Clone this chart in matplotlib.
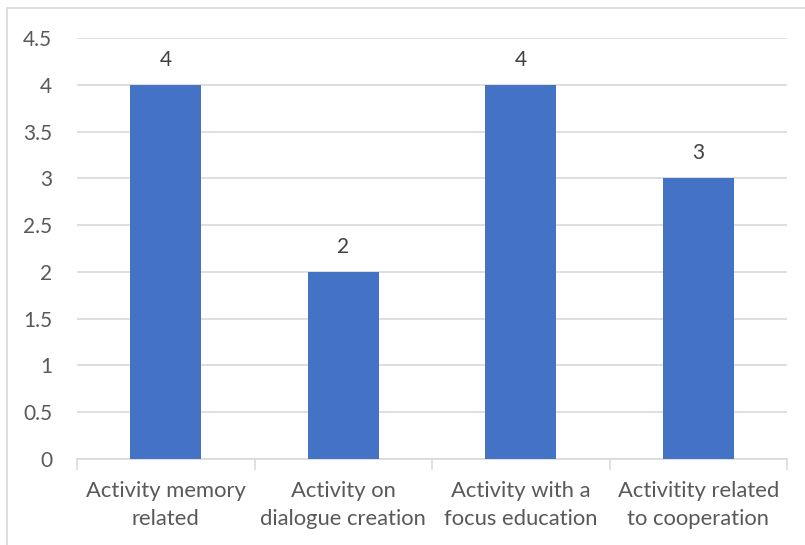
import matplotlib.pyplot as plt
from matplotlib.patches import Rectangle

categories = ["Activity memory\nrelated", "Activity on\ndialogue creation",
              "Activity with a\nfocus education", "Activitity related\nto cooperation"]
values = [4, 2, 4, 3]

plt.rcParams['font.family'] = ['Lato', 'DejaVu Sans']
txt = '#595959'
grid = '#D9D9D9'

fig = plt.figure(figsize=(8.05, 5.45), dpi=100)
# chart frame
fig.patches.append(Rectangle((7 / 805, -0.1), 1.2, 1 - 8 / 545 + 0.1, transform=fig.transFigure,
                             fill=False, edgecolor=grid, linewidth=1.2))

ax = fig.add_axes([77 / 805, 1 - 459 / 545, 710 / 805, 421 / 545])
x = range(len(categories))
ax.bar(x, values, width=0.4, color='#4472C4', zorder=3)
for i, v in zip(x, values):
    ax.text(i, v + 0.27, str(v), ha='center', va='center', fontsize=15, color='#404040')

ax.set_xlim(-0.5, len(categories) - 0.5)
ax.set_ylim(0, 4.5)
ax.set_yticks([i * 0.5 for i in range(10)])
ax.set_yticklabels(['0', '0.5', '1', '1.5', '2', '2.5', '3', '3.5', '4', '4.5'])
ax.yaxis.grid(True, color=grid, linewidth=1.2, zorder=0)
ax.set_xticks(list(x))
ax.set_xticklabels(categories, fontsize=15.8, color=txt, linespacing=1.5)
ax.tick_params(axis='x', length=0, pad=16)
ax.tick_params(axis='y', length=0, pad=18, labelsize=15, labelcolor=txt)

# category boundary ticks
for b in [-0.5, 0.5, 1.5, 2.5, 3.5]:
    ax.plot([b, b], [0, -0.11], color=grid, linewidth=1.2, clip_on=False, zorder=3)

for s in ['top', 'right', 'left']:
    ax.spines[s].set_visible(False)
ax.spines['bottom'].set_color(grid)
ax.spines['bottom'].set_linewidth(1.2)

fig.savefig('out.png', dpi=100)
